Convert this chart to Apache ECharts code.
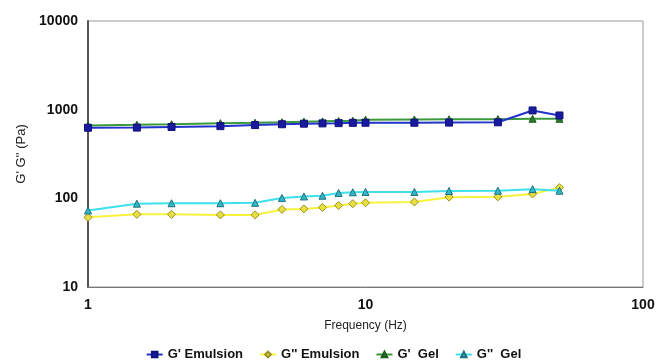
<!DOCTYPE html>
<html>
<head>
<meta charset="utf-8">
<script src="https://cdn.jsdelivr.net/npm/echarts@6/dist/echarts.min.js"></script>
<style>
  html, body { margin: 0; padding: 0; background: #fff; }
  #box { width: 667px; height: 360px; }
</style>
</head>
<body>
<div id="box"></div>
<script>
// 频率 (Hz)
let freq = [1, 1.5, 2, 3, 4, 5, 6, 7, 8, 9, 10, 15, 20, 30, 40, 50];

// 各曲线数值 (Pa)
let gpEmulsion  = [625, 628, 638, 652, 670, 685, 695, 700, 705, 710, 712, 712, 715, 720, 980, 860];
let gppEmulsion = [61, 66, 66, 65, 65, 75, 76, 79, 83, 87, 89, 91, 103, 104, 112, 132];
let gpGel       = [665, 675, 685, 705, 712, 722, 732, 738, 745, 752, 770, 775, 778, 782, 790, 790];
let gppGel      = [73, 87, 88, 88, 89, 101, 105, 107, 115, 117, 118, 118, 121, 122, 127, 122];

let seriesNames = ["G' Emulsion", "G'' Emulsion", "G'  Gel", "G''  Gel"];

function pairs(ys) {
    return freq.map(function (f, i) { return [f, ys[i]]; });
}

let chart = echarts.init(document.getElementById('box'));

let labelFont = {
    color: '#111',
    fontFamily: 'Liberation Sans, Arial, sans-serif',
    fontWeight: 'bold',
    fontSize: 14,
    formatter: function (v) { return String(v); }
};

let option = {
    backgroundColor: '#fff',
    animation: false,
    grid: {
        left: 88,
        right: 24,
        top: 21,
        bottom: 73,
        show: true,
        borderColor: '#999',
        borderWidth: 1
    },
    legend: {
        top: 343,
        left: 'center',
        itemWidth: 16,
        itemHeight: 7,
        itemGap: 16,
        textStyle: {
            color: '#111',
            fontFamily: 'Liberation Sans, Arial, sans-serif',
            fontWeight: 'bold',
            fontSize: 13
        },
        data: seriesNames
    },
    xAxis: {
        type: 'log',
        logBase: 10,
        min: 1,
        max: 100,
        name: 'Frequency (Hz)',
        nameLocation: 'middle',
        nameGap: 33,
        nameTextStyle: {
            color: '#222',
            fontFamily: 'Liberation Sans, Arial, sans-serif',
            fontSize: 12
        },
        axisLine: { lineStyle: { color: '#777', width: 1 } },
        axisTick: { show: false },
        splitLine: { show: false },
        axisLabel: Object.assign({ margin: 11 }, labelFont)
    },
    yAxis: {
        type: 'log',
        logBase: 10,
        min: 10,
        max: 10000,
        name: "G' G'' (Pa)",
        nameLocation: 'middle',
        nameGap: 59,
        nameRotate: 90,
        nameTextStyle: {
            color: '#222',
            fontFamily: 'Liberation Sans, Arial, sans-serif',
            fontSize: 13
        },
        axisLine: { lineStyle: { color: '#555', width: 2 } },
        axisTick: { show: false },
        splitLine: { show: false },
        axisLabel: Object.assign({ margin: 10 }, labelFont)
    },
    series: [
        {
            name: seriesNames[0],
            type: 'line',
            data: pairs(gpEmulsion),
            symbol: 'rect',
            symbolSize: 7,
            lineStyle: { color: '#2233cc', width: 2 },
            itemStyle: { color: '#1a1aa0', borderColor: '#10107a', borderWidth: 1 },
            z: 3
        },
        {
            name: seriesNames[1],
            type: 'line',
            data: pairs(gppEmulsion),
            symbol: 'diamond',
            symbolSize: 8,
            lineStyle: { color: '#f7f23c', width: 2 },
            itemStyle: { color: '#e8e040', borderColor: '#9a9020', borderWidth: 1 },
            z: 2
        },
        {
            name: seriesNames[2],
            type: 'line',
            data: pairs(gpGel),
            symbol: 'triangle',
            symbolSize: 7,
            lineStyle: { color: '#3a9a3a', width: 2 },
            itemStyle: { color: '#2a7a2a', borderColor: '#1d5a1d', borderWidth: 1 },
            z: 2
        },
        {
            name: seriesNames[3],
            type: 'line',
            data: pairs(gppGel),
            symbol: 'triangle',
            symbolSize: 7,
            lineStyle: { color: '#3ee0ec', width: 2 },
            itemStyle: { color: '#30b8c8', borderColor: '#207080', borderWidth: 1 },
            z: 3
        }
    ]
};

chart.setOption(option);
</script>
</body>
</html>
